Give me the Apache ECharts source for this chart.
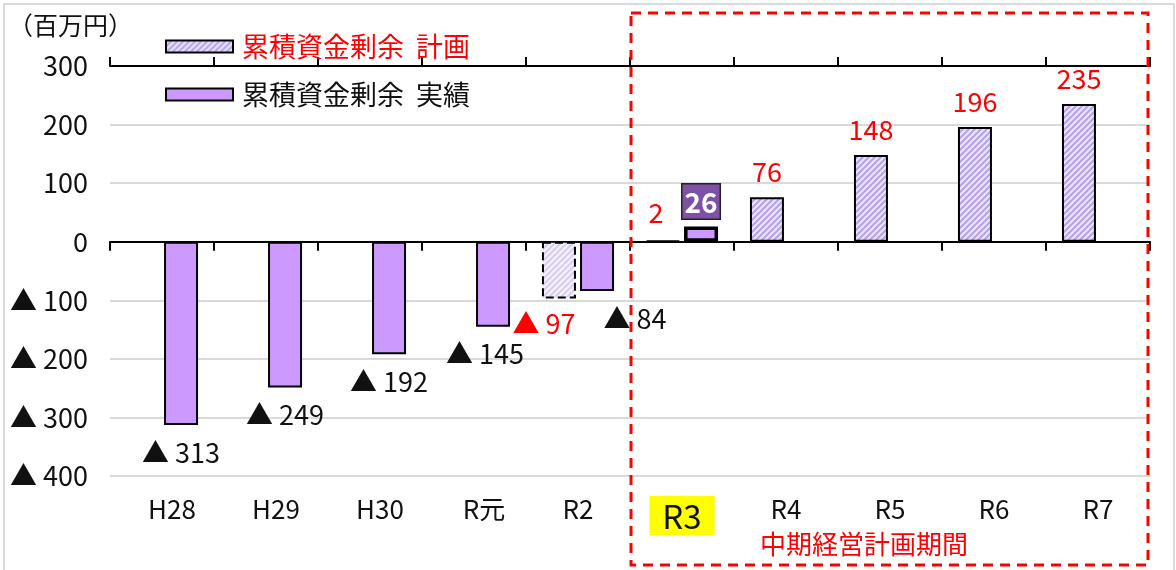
<!DOCTYPE html>
<html>
<head>
<meta charset="utf-8">
<script src="https://cdn.jsdelivr.net/npm/echarts@6/dist/echarts.min.js"></script>
<style>
  html, body { margin: 0; padding: 0; background: #fff; }
  #chart { width: 1176px; height: 570px; }
</style>
</head>
<body>
<div id="chart"></div>
<script>
// 年度
const categories = ['H28', 'H29', 'H30', 'R元', 'R2', 'R3', 'R4', 'R5', 'R6', 'R7']
// 累積資金剰余（百万円）
const planValues = [null, null, null, null, -97, 2, 76, 148, 196, 235]
const actualValues = [-313, -249, -192, -145, -84, 26, null, null, null, null]
const yMin = -400
const yMax = 300
const yStep = 100

const PLAN = '累積資金剰余  計画'
const ACTUAL = '累積資金剰余  実績'

const FONT = "'Noto Sans CJK JP', sans-serif"

// 斜線ハッチ
const makeHatch = (bg, fg) => {
  const c = document.createElement('canvas')
  c.width = 6
  c.height = 6
  const g = c.getContext('2d')
  g.fillStyle = bg
  g.fillRect(0, 0, 6, 6)
  g.strokeStyle = fg
  g.lineWidth = 2
  g.beginPath()
  g.moveTo(-1, 7); g.lineTo(7, -1)
  g.moveTo(-1, 1); g.lineTo(1, -1)
  g.moveTo(5, 7); g.lineTo(7, 5)
  g.stroke()
  return { image: c, repeat: 'repeat' }
}

const fmt = v => (v < 0 ? '▲ ' + Math.abs(v) : String(v))

// ラベル位置の微調整（Excelで手動配置されていたもの）
const planTweak = { R2: { offset: [-15, 0] }, R3: { offset: [-7, -2] } }
const actualTweak = { R2: { offset: [38, 0] }, 'R元': { offset: [-8, 0] } }

const planData = planValues.map((v, i) => {
  if (v === null) return null
  const cat = categories[i]
  const item = {
    value: v,
    label: Object.assign({ position: v < 0 ? 'bottom' : 'top' }, planTweak[cat] || {})
  }
  if (cat === 'R2') {
    item.itemStyle = { borderType: 'dashed', color: makeHatch('#f6f2fc', '#d9cdf2') }
  }
  return item
})

const actualData = actualValues.map((v, i) => {
  if (v === null) return null
  const cat = categories[i]
  const item = {
    value: v,
    label: Object.assign({ position: v < 0 ? 'bottom' : 'top' }, actualTweak[cat] || {})
  }
  if (cat === 'R3') {
    item.itemStyle = { borderWidth: 3.5 }
    item.label = {
      position: 'top', distance: 8,
      color: '#fff', fontWeight: 'bold', fontSize: 28,
      backgroundColor: '#7e50a8', borderColor: '#222', borderWidth: 1.5,
      padding: [4, 2, 2, 2]
    }
  }
  return item
})

const chart = echarts.init(document.getElementById('chart'))

const baseX = {
  type: 'category',
  data: categories,
  boundaryGap: true,
  axisLabel: { show: false },
  splitLine: { show: false }
}

chart.setOption({
  animation: false,
  textStyle: { fontFamily: FONT },
  grid: { left: 110, right: 26, top: 66, bottom: 94 },
  legend: {
    orient: 'vertical',
    left: 165,
    top: 33,
    padding: 0,
    itemWidth: 67,
    itemHeight: 12,
    itemGap: 21,
    icon: 'rect',
    textStyle: { fontSize: 27, color: '#111', padding: [0, 0, 0, 4] },
    data: [
      { name: PLAN, textStyle: { color: '#ff0000' } },
      { name: ACTUAL }
    ]
  },
  xAxis: [
    Object.assign({}, baseX, {
      position: 'bottom',
      axisLine: { onZero: true, lineStyle: { color: '#000', width: 2 } },
      axisTick: { show: true, length: 9, lineStyle: { color: '#000', width: 2 } }
    }),
    Object.assign({}, baseX, {
      position: 'top',
      axisLine: { onZero: true, lineStyle: { color: '#000', width: 2 } },
      axisTick: { show: true, length: 9, lineStyle: { color: '#000', width: 2 } }
    }),
    Object.assign({}, baseX, {
      position: 'bottom',
      axisLine: { show: false, onZero: false },
      axisTick: { show: false },
      axisLabel: {
        show: true, interval: 0, margin: 20, fontSize: 26, color: '#111',
        formatter: v => (v === 'R3' ? '{hl|' + v + '}' : (['H28', 'H29', 'H30', 'R元'].includes(v) ? '{sh|' + v + '}' : v)),
        rich: {
          hl: { fontSize: 33, backgroundColor: '#ffff00', padding: [4, 13, 2, 13], color: '#111' },
          sh: { fontSize: 26, padding: [0, 0, 0, 20], color: '#111' }
        }
      }
    })
  ],
  yAxis: {
    type: 'value',
    min: yMin,
    max: yMax,
    interval: yStep,
    axisLine: { show: false },
    axisTick: { show: false },
    splitLine: { lineStyle: { color: '#d9d9d9', width: 2 } },
    axisLabel: { fontSize: 27, color: '#111', margin: 22, formatter: fmt }
  },
  series: [
    {
      name: PLAN,
      type: 'bar',
      xAxisIndex: 0,
      barWidth: 34,
      barGap: '12%',
      itemStyle: { color: makeHatch('#ece4fa', '#b7a1ef'), borderColor: '#000', borderWidth: 2 },
      label: { show: true, color: '#ff0000', fontSize: 27, distance: 12, formatter: p => fmt(p.value) },
      data: planData
    },
    {
      name: ACTUAL,
      type: 'bar',
      xAxisIndex: 0,
      barWidth: 34,
      itemStyle: { color: '#cc99ff', borderColor: '#000', borderWidth: 2 },
      label: { show: true, color: '#111', fontSize: 27, distance: 14, formatter: p => fmt(p.value) },
      data: actualData
    }
  ],
  graphic: [
    {
      type: 'rect', silent: true, z: -10,
      shape: { x: 4, y: 4, width: 1170, height: 580 },
      style: { fill: 'none', stroke: '#d9d9d9', lineWidth: 2 }
    },
    {
      type: 'rect', silent: true, z: 100,
      shape: { x: 631, y: 13, width: 517, height: 552 },
      style: { fill: 'none', stroke: '#ff0000', lineWidth: 3, lineDash: [10, 7] }
    },
    {
      type: 'text', left: 8, top: 13,
      style: { text: '（百万円）', font: '25px ' + FONT, fill: '#111' }
    },
    {
      type: 'text', left: 760, top: 531,
      style: { text: '中期経営計画期間', font: '26px ' + FONT, fill: '#ff0000' }
    }
  ]
})
</script>
</body>
</html>
